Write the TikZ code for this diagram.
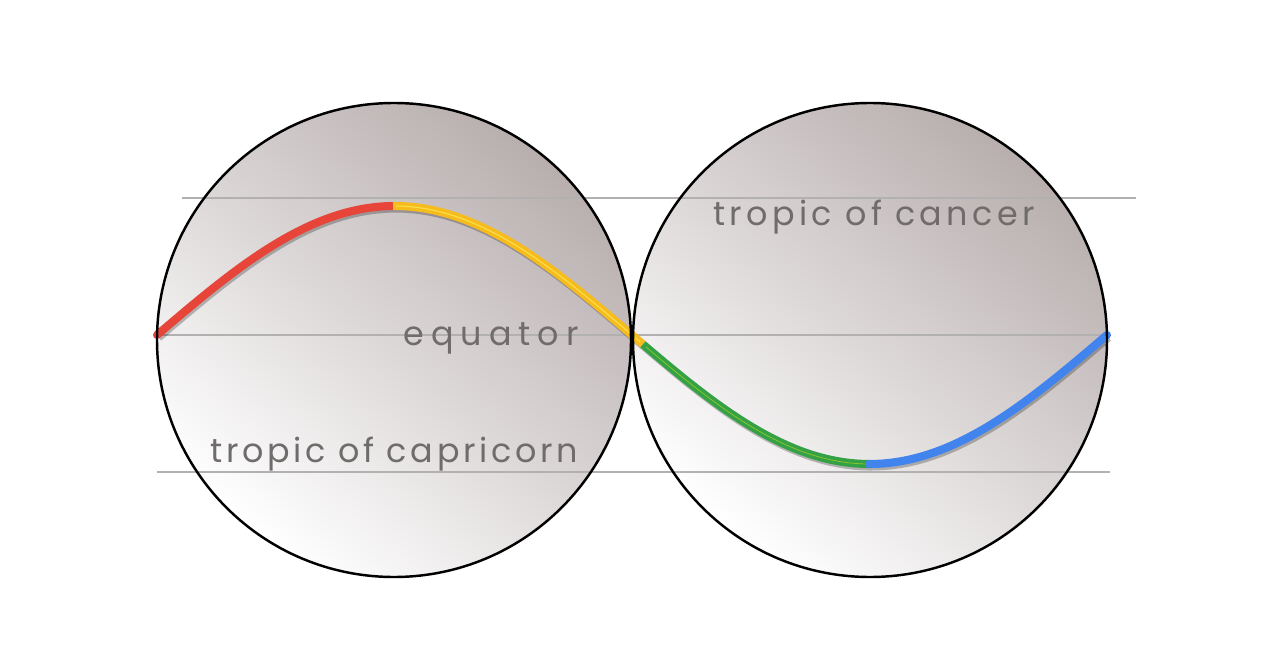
\documentclass[tikz,border=0pt]{standalone}
\usepackage{fontspec}
\newfontfamily\labA[LetterSpace=13]{Poppins}
\newfontfamily\labB[LetterSpace=21]{Poppins}
\newfontfamily\labC[LetterSpace=11]{Poppins}
\definecolor{gred}{HTML}{E8453A}
\definecolor{gyellow}{HTML}{F6BC1E}
\definecolor{ggreen}{HTML}{34A146}
\definecolor{gblue}{HTML}{4284EE}
\definecolor{shadedark}{RGB}{184,174,174}
\definecolor{tropline}{RGB}{178,176,176}
\definecolor{labgray}{RGB}{112,108,108}
\tikzset{
  globe/.style={top color=shadedark, bottom color=white, shading angle=-40},
  rim/.style={draw=black, line width=1.4pt},
  tropic/.style={draw=tropline, line width=1.1pt},
  label/.style={text=labgray, anchor=base west, inner sep=0pt},
  seg/.style={line width=4.6pt, line cap=butt, line join=round},
  segshadow/.style={line width=4.6pt, draw=black, opacity=0.25, line join=round},
}
\newcommand{\lsize}{\fontsize{19}{22}\selectfont}
\newcommand{\sinepath}[2]{plot[domain=#1:#2, samples=120] (\x, {335-129*sin((\x-157)*0.3789474)})}
\begin{document}
\begin{tikzpicture}[x=0.02cm, y=-0.02cm]
\useasboundingbox (0,0) rectangle (1280,669);
\fill[white] (0,0) rectangle (1280,669);
% globes
\shade[globe] (394,340) circle (237);
\shade[globe] (870,340) circle (237);
% tropic lines
\draw[tropic] (182,198) -- (1136,198);
\draw[tropic] (157,335) -- (1110,335);
\draw[tropic] (157,472) -- (1110,472);
% labels
\node[label, font=\labA\lsize] (cancer) at (713,225) {tropic of cancer};
\node[label, font=\labB\lsize] (equator) at (403,345) {equator};
\node[label, font=\labC\lsize] (capricorn) at (210,462) {tropic of capricorn};
% curve shadow
\begin{scope}[shift={(1.5,2.5)}]
\draw[segshadow] \sinepath{157}{1107};
\end{scope}
% curve
\draw[seg, draw=gred, line cap=round] \sinepath{157}{393.5};
\draw[seg, draw=gyellow] \sinepath{393}{643};
\draw[line width=0.6pt, draw=yellow!60!white, opacity=0.6] \sinepath{396}{640};
\draw[seg, draw=ggreen] \sinepath{643}{869.5};
\draw[line width=0.4pt, draw=yellow!80!green, opacity=0.6] \sinepath{646}{866};
\draw[seg, draw=gblue, line cap=round] \sinepath{869}{1107};
% rims
\draw[rim] (394,340) circle (237);
\draw[rim] (870,340) circle (237);
\end{tikzpicture}
\end{document}
